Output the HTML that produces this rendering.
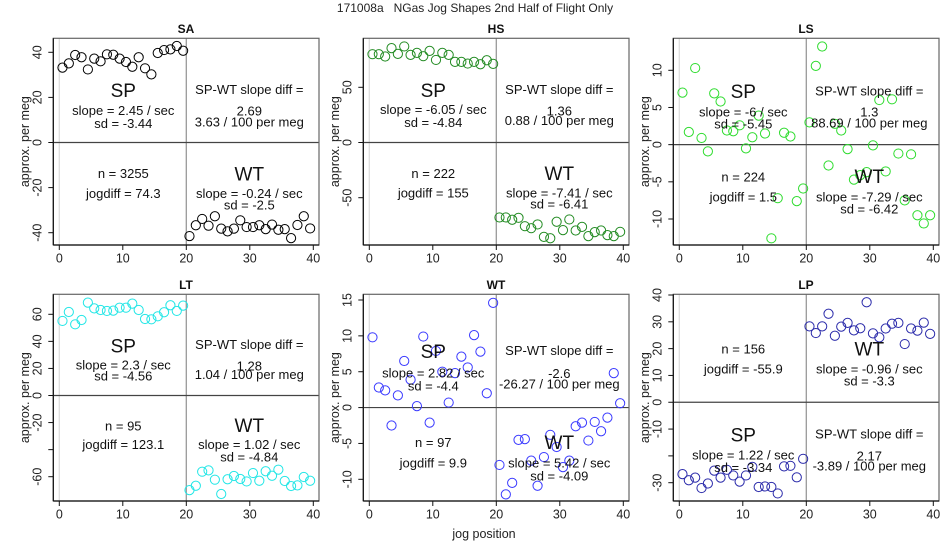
<!DOCTYPE html>
<html><head><meta charset="utf-8"><style>
html,body{margin:0;padding:0;background:#fff;}
svg{display:block;font-family:"Liberation Sans",Arial,sans-serif;}
</style></head><body>
<svg id="chart" width="950" height="550" viewBox="0 0 950 550">
<text x="475" y="12" text-anchor="middle" font-size="12" fill="#222" style="white-space:pre">171008a   NGas Jog Shapes 2nd Half of Flight Only</text>
<text x="484" y="538" text-anchor="middle" font-size="12.5" fill="#222">jog position</text>
</svg>
<script>
// ---- data ----
const xPositions = [0.5,1.5,2.5,3.5,4.5,5.5,6.5,7.5,8.5,9.5,10.5,11.5,12.5,13.5,14.5,15.5,16.5,17.5,18.5,19.5,20.5,21.5,22.5,23.5,24.5,25.5,26.5,27.5,28.5,29.5,30.5,31.5,32.5,33.5,34.5,35.5,36.5,37.5,38.5,39.5];
const xTicks = [0,10,20,30,40];
const panelNames = ["SA","HS","LS","LT","WT","LP"];
const saValues = [33.2,35.1,38.8,37.8,32.4,37.2,36.0,39.1,38.9,37.2,35.7,33.6,37.8,32.9,30.2,39.7,41.0,41.3,42.8,40.7,
  -41.5,-36.7,-33.9,-36.9,-32.7,-38.2,-39.4,-38.2,-34.5,-37.5,-37.5,-36.7,-38.4,-36.4,-38.7,-38.4,-42.4,-36.6,-32.7,-38.1];
const hsValues = [80,80,77.9,85.5,80.3,87,79.4,81.2,78.2,83,74.8,81.2,79.4,73,73,71.5,73,70.9,74.5,71.2,
  -67.9,-67.9,-70,-68.2,-75.8,-77.6,-74.2,-85.5,-86.7,-71.8,-79.4,-69.7,-79.7,-76.4,-84.8,-81.2,-79.7,-83.9,-84.8,-80.9];
const lsValues = [7.0,1.7,10.3,0.9,-0.9,6.9,5.8,1.9,1.8,2.6,-0.5,1.0,3.9,1.5,-12.6,-7.2,1.6,1.1,-7.6,-5.9,
  3.0,10.6,13.2,-2.8,2.8,1.9,-0.6,-4.7,-4.1,-3.7,-0.1,6.0,-3.6,6.1,-1.2,-7.5,-1.3,-9.5,-10.6,-9.5];
const ltValues = [55.1,61.7,52.6,55.8,68.6,64.4,63.2,62.5,62.7,64.9,64.9,67.9,63.2,56.5,56.3,58.5,61.5,66.7,62.5,66.4,
  -69.9,-66.7,-56.3,-55.3,-62.2,-72.8,-61.9,-59.5,-61.7,-63.5,-57.3,-63,-56,-59.3,-54.8,-63.2,-66.9,-66.4,-60.2,-63];
const wtValues = [9.8,2.8,2.4,-2.5,1.7,6.5,3.9,0.2,9.9,-2.1,7.9,5.0,0.7,4.8,7.1,5.6,10.1,7.8,2.0,14.6,
  -8.0,-12.1,-10.5,-4.5,-4.4,-7.4,-10.9,-6.9,-3.8,-5.5,-8.3,-7.4,-2.6,-2.1,-4.6,-2.0,-3.3,-1.4,4.8,0.6];
const lpValues = [-26.8,-29.1,-28.1,-32.0,-30.3,-25.5,-28.1,-25.2,-27.3,-29.6,-27.3,-24.1,-31.6,-31.4,-31.6,-34.0,-23.9,-23.7,-28.0,-21.1,
  28.3,25.8,28.3,33.0,24.8,28.2,29.6,26.8,27.6,37.3,25.7,24.2,27.5,29.3,29.6,21.7,27.5,26.7,29.7,25.5];
const saTicks = [-40,-20,0,20,40];
const hsTicks = [-50,0,50];
const lsTicks = [-10,-5,0,5,10];
const ltTicks = [-60,-40,-20,0,20,40,60];
const ltTickLabels = ["-60","","-20","0","20","40","60"];
const wtTicks = [-10,-5,0,5,10,15];
const lpTicks = [-30,-20,-10,0,10,20,30,40];
const lpTickLabels = ["-30","","-10","0","10","20","30","40"];
const saTexts = ["2.45","-3.44","2.69","3.63","3255","74.3","-0.24","-2.5"];
const hsTexts = ["-6.05","-4.84","1.36","0.88","222","155","-7.41","-6.41"];
const lsTexts = ["-6","-5.45","1.3","88.69","224","1.5","-7.29","-6.42"];
const ltTexts = ["2.3","-4.56","1.28","1.04","95","123.1","1.02","-4.84"];
const wtTexts = ["2.82","-4.4","-2.6","-26.27","97","9.9","5.42","-4.09"];
const lpTexts = ["1.22","-3.34","2.17","-3.89","156","-55.9","-0.96","-3.3"];

const NS = "http://www.w3.org/2000/svg";
const svg = document.getElementById("chart");
function mk(tag, attrs, parent){ const e=document.createElementNS(NS,tag); for(const k in attrs) e.setAttribute(k,attrs[k]); (parent||svg).appendChild(e); return e; }

const panels = [
 {vals:saValues,ticks:saTicks,labels:null,texts:saTexts,color:"#000",col:0,row:0,cal:[40,52.3,-40,232.7],
  ty:[272,331,370,268,333,365,520,580,522,580,615]},
 {vals:hsValues,ticks:hsTicks,labels:null,texts:hsTexts,color:"#228B22",col:1,row:0,cal:[50,87.3,-50,197.7],
  ty:[272,328,367,268,333,361,520,578,520,578,612]},
 {vals:lsValues,ticks:lsTicks,labels:null,texts:lsTexts,color:"#2fdc2f",col:2,row:0,cal:[10,70.3,-10,219],
  ty:[275,335,372,272,335,368,530,590,530,590,627]},
 {vals:ltValues,ticks:ltTicks,labels:ltTickLabels,texts:ltTexts,color:"#22e6e6",col:0,row:1,cal:[60,58.3,-60,220.7],
  ty:[228,284,318,223,287,313,467,523,467,523,560]},
 {vals:wtValues,ticks:wtTicks,labels:null,texts:wtTexts,color:"#3a3aff",col:1,row:1,cal:[15,44,-10,223.3],
  ty:[245,308,347,241,310,342,517,578,517,578,617]},
 {vals:lpValues,ticks:lpTicks,labels:lpTickLabels,texts:lpTexts,color:"#2a2aaa",col:2,row:1,cal:[40,39,-30,226.7],
  ty:[495,555,592,492,557,588,237,297,237,297,332]}
];
const colOff=[0,310,620], rowOff=[0,256];
const boxL=53.3, boxR=319, boxT=38.3, boxB=245;

panels.forEach((p,i)=>{
  const ox=colOff[p.col], oy=rowOff[p.row];
  const tyShift = p.row===1 ? 14 : 0;
  const g=mk("g",{transform:`translate(${ox},${oy})`});
  
  
  const xs=v=>59.3+(313.3-59.3)*v/40;
  const [v1,p1,v2,p2]=p.cal;
  const ys=v=>p1+(v-v1)*(p2-p1)/(v2-v1);
  const t=mk("text",{x:186,y:33,"text-anchor":"middle","font-size":12,"font-weight":"bold",fill:"#111"},g);
  t.textContent=panelNames[i];
  
  
  const l0=mk("line",{x1:xs(0),x2:xs(0),y1:boxT,y2:boxB,stroke:"#ddd","stroke-width":1.3},g);
  
  
  const l20=mk("line",{x1:xs(20),x2:xs(20),y1:boxT,y2:boxB,stroke:"#999","stroke-width":1.3},g);
  
  
  const h0=mk("line",{x1:boxL,x2:boxR,y1:ys(0),y2:ys(0),stroke:"#444","stroke-width":1.2},g);
  
  
  const b=mk("rect",{x:boxL,y:boxT,width:boxR-boxL,height:boxB-boxT,fill:"none",stroke:"#666","stroke-width":1.2},g);
  
  
  mk("line",{x1:boxL,x2:boxL,y1:boxT,y2:boxB,stroke:"#111","stroke-width":1.2},g);
  mk("line",{x1:boxL,x2:boxR,y1:boxB,y2:boxB,stroke:"#111","stroke-width":1.2},g);
  xTicks.forEach(v=>{
    mk("line",{x1:xs(v),x2:xs(v),y1:boxB,y2:boxB+5,stroke:"#111"},g);
    const tl=mk("text",{x:xs(v),y:boxB+17.5,"text-anchor":"middle","font-size":12.5,fill:"#222"},g);
    tl.textContent=v;
    
    
  });
  p.ticks.forEach((v,k)=>{
    mk("line",{x1:boxL-5,x2:boxL,y1:ys(v),y2:ys(v),stroke:"#111"},g);
    const lab=p.labels?p.labels[k]:String(v);
    if(lab!==""){
      const tl=mk("text",{x:0,y:0,"text-anchor":"middle","font-size":12.5,fill:"#222",transform:`translate(41.5,${ys(v)}) rotate(-90)`},g);
      tl.textContent=lab;
      
      
    }
  });
  const yl=mk("text",{x:0,y:0,"text-anchor":"middle","font-size":12.5,fill:"#222",transform:`translate(29,${(boxT+boxB)/2}) rotate(-90)`},g);
  yl.textContent="approx. per meg";
  
  
  p.vals.forEach((v,k)=>{
    const c=mk("circle",{cx:xs(xPositions[k]),cy:ys(v),r:4.6,fill:"none",stroke:p.color,"stroke-width":1},g);
    
    
  });
  const ty=p.ty.map(z=>z/3+tyShift);
  const tx=p.texts;
  const spItems=[["SP",19,ty[0]],[`slope = ${tx[0]} / sec`,13,ty[1]],[`sd = ${tx[1]}`,13,ty[2]]];
  const diffItems=[["SP-WT slope diff =",13,ty[3]],[tx[2],13,ty[4]],[`${tx[3]} / 100 per meg`,13,ty[5]]];
  const nItems=[[`n = ${tx[4]}`,13,ty[6]],[`jogdiff = ${tx[5]}`,13,ty[7]]];
  const wtItems=[["WT",19,ty[8]],[`slope = ${tx[6]} / sec`,13,ty[9]],[`sd = ${tx[7]}`,13,ty[10]]];
  const put=(items,x,name)=>items.forEach(it=>{
    const e=mk("text",{x:x,y:it[2]+(it[1]>14?6.5:4.7),"text-anchor":"middle","font-size":it[1],fill:"#111"},g);
    e.textContent=it[0];
    
    
  });
  put(spItems,123.3,"sp-annotation");
  put(diffItems,249.3,"slope-diff-annotation");
  put(nItems,123.3,"n-jogdiff-annotation");
  put(wtItems,249.3,"wt-annotation");
});
</script>
</body></html>
